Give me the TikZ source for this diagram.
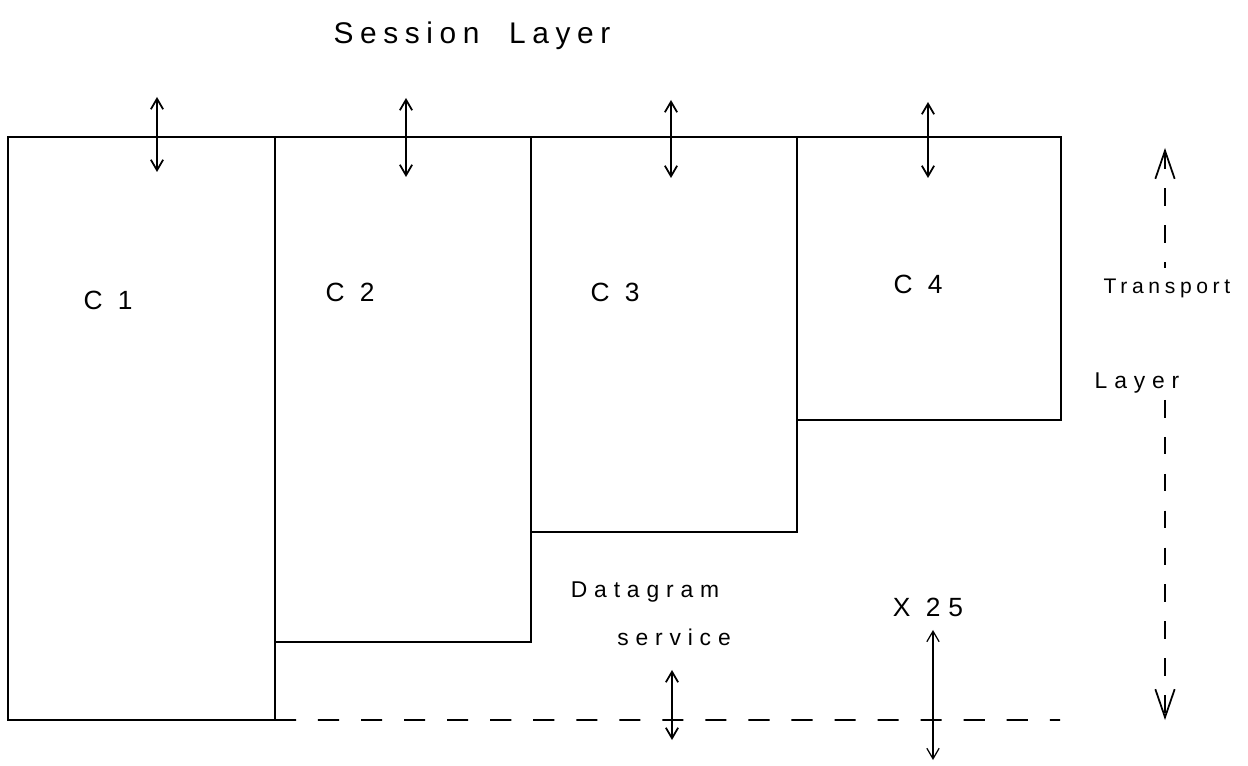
\documentclass[tikz,border=0pt]{standalone}
\usepackage{fontspec}
\newfontfamily\hand[LetterSpace=30]{Liberation Sans}
\newfontfamily\handt[LetterSpace=22]{Liberation Sans}
\usetikzlibrary{arrows.meta}
\begin{document}
\begin{tikzpicture}[x=0.02cm,y=-0.02cm,
  box/.style={draw, line width=1pt, inner sep=0pt, outer sep=0pt, anchor=north west},
  lbl/.style={font=\hand\fontsize{15}{18}\selectfont, inner sep=0pt},
  sm/.style={font=\hand\fontsize{13}{16}\selectfont, inner sep=0pt},
  dbl/.style={line width=1pt, {Straight Barb[length=6pt,width=7pt]}-{Straight Barb[length=6pt,width=7pt]}},
  big/.style={line width=1pt, dash pattern=on 10pt off 11pt}]
\useasboundingbox (0,0) rectangle (1248,766);
\node[box, minimum width=5.34cm, minimum height=11.66cm] (c1) at (8,137) {};
\node[box, minimum width=5.12cm, minimum height=10.10cm] (c2) at (275,137) {};
\node[box, minimum width=5.32cm, minimum height=7.90cm] (c3) at (531,137) {};
\node[box, minimum width=5.28cm, minimum height=5.66cm] (c4) at (797,137) {};
\node[lbl, font=\handt\fontsize{17}{20}\selectfont] (ses) at (472,36) {Session\quad Layer};
\node[lbl] (t1) at (108,300) {C 1};
\node[lbl] (t2) at (350,292) {C 2};
\node[lbl] (t3) at (615,292) {C 3};
\node[lbl] (t4) at (918,284) {C 4};
\node[sm] (dg) at (645,592) {Datagram};
\node[sm] (sv) at (674,637) {service};
\node[lbl] (x25) at (928,607) {X 25};
\node[sm, font=\handt\fontsize{12}{15}\selectfont] (tr) at (1167,288) {Transport};
\node[sm] (ly) at (1137,383) {Layer};
\coordinate (e) at (1060,720);
\draw[line width=1pt, dash pattern=on 12pt off 12.5pt] (c1.south east) -- (e);
\draw[dbl] (157,97) -- (157,172);
\draw[dbl] (406,98) -- (406,177);
\draw[dbl] (671,100) -- (671,178);
\draw[dbl] (928,102) -- (928,178);
\draw[dbl] (672,670) -- (672,740);
\draw[dbl, line width=0.7pt] (933,630) -- (933,760);
\draw[big, {Straight Barb[length=16pt,width=11pt]}-] (1165,148) -- (1165,268);
\draw[big, -{Straight Barb[length=16pt,width=11pt]}] (1165,400) -- (1165,720);
\end{tikzpicture}
\end{document}
